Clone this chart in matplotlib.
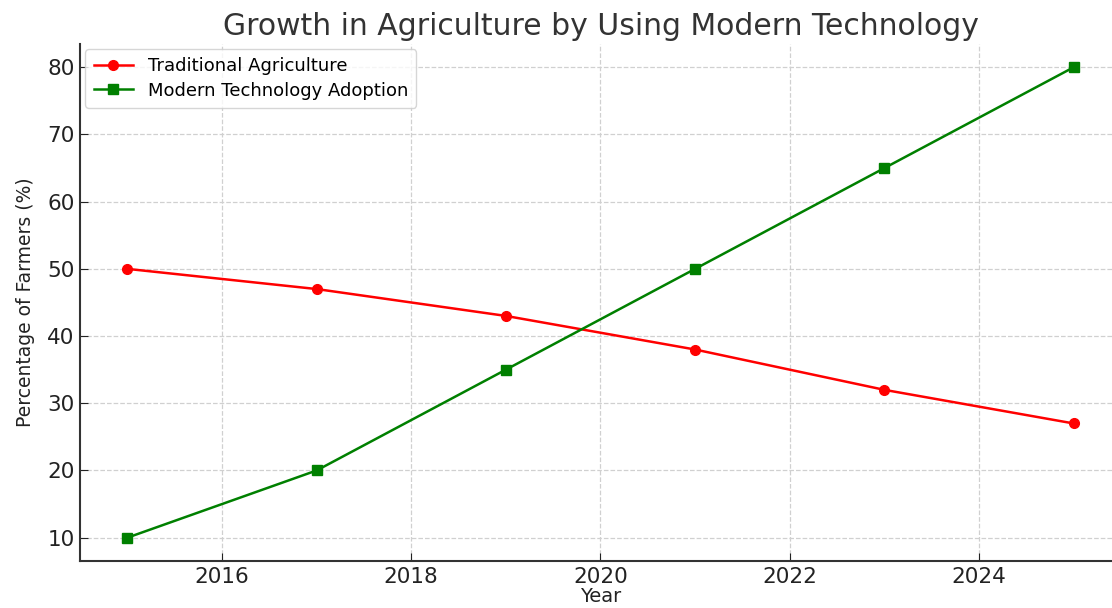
import matplotlib.pyplot as plt

years = [2015, 2017, 2019, 2021, 2023, 2025]
traditional = [50, 47, 43, 38, 32, 27]
modern = [10, 20, 35, 50, 65, 80]

fig = plt.figure(figsize=(11.12, 6.08), dpi=100)
ax = fig.add_axes([0.072, 0.077, 0.936, 0.851])

ax.plot(years, traditional, marker='o', color='red', linewidth=1.8, markersize=7,
        label='Traditional Agriculture')
ax.plot(years, modern, marker='s', color='green', linewidth=1.8, markersize=7,
        label='Modern Technology Adoption')

ax.set_xlim(2014.5, 2025.5)
ax.set_ylim(6.5, 83.5)
ax.set_xticks([2016, 2018, 2020, 2022, 2024])
ax.set_yticks([10, 20, 30, 40, 50, 60, 70, 80])

ax.grid(True, linestyle='--', color='#d0d0d0', linewidth=0.9)
ax.spines['top'].set_visible(False)
ax.spines['right'].set_visible(False)
for s in ['left', 'bottom']:
    ax.spines[s].set_color('#333333')
    ax.spines[s].set_linewidth(1.5)

ax.tick_params(labelsize=15.5, colors='#222222', length=6, direction='in', pad=4)
ax.set_xlabel('Year', fontsize=14, color='#222222', labelpad=0)
ax.set_ylabel('Percentage of Farmers (%)', fontsize=13.5, color='#222222', labelpad=9)
ax.set_title('Growth in Agriculture by Using Modern Technology', fontsize=21.5,
             color='#333333', pad=6)

ax.legend(loc='upper left', fontsize=13, frameon=True, borderpad=0.45,
          handlelength=2.2, labelspacing=0.35, borderaxespad=0.3)

plt.savefig('out.png', dpi=100)
